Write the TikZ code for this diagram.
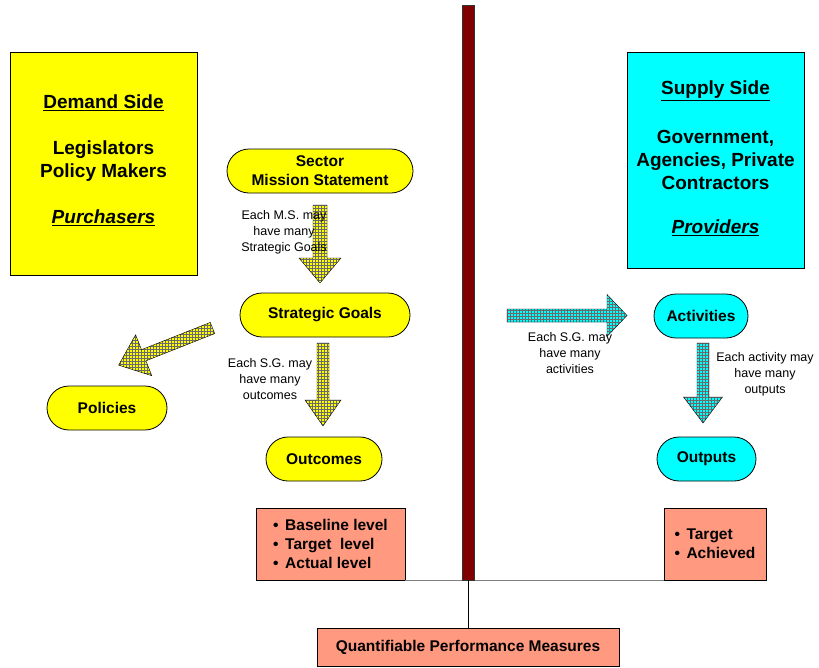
\documentclass[tikz,border=0pt]{standalone}
\usepackage{fontspec}
\setmainfont{Liberation Sans}
\usetikzlibrary{patterns}

\definecolor{salmon}{HTML}{FF9980}
\definecolor{barred}{HTML}{800000}
\definecolor{lemon}{HTML}{FFFF00}
\definecolor{aqua}{HTML}{00FFFF}
\definecolor{hatch}{HTML}{6A6A6A}

\tikzset{
  sidebox/.style={draw, thick, minimum width=#1, inner sep=0pt},
  pill/.style={draw, thick, rounded corners=22pt, minimum height=44, inner sep=0pt,
    align=center, font=\fontsize{15.5}{19}\selectfont\bfseries},
  measbox/.style={draw, thick, fill=salmon, inner sep=0pt,
    font=\fontsize{15.5}{19}\selectfont\bfseries},
  meastext/.style={align=left, inner sep=0pt, font=\fontsize{15.5}{19}\selectfont\bfseries},
  bigtext/.style={align=center, font=\fontsize{19}{23}\selectfont\bfseries},
  note/.style={align=center, font=\fontsize{12.5}{16}\selectfont},
  yarrow/.style={draw=black, preaction={fill=lemon}, pattern=grid, pattern color=hatch},
  carrow/.style={draw=black, preaction={fill=aqua}, pattern=grid, pattern color=hatch},
  pics/barrow/.style n args={5}{code={
    \path[#5] (0,-#2) -- (#1-#4,-#2) -- (#1-#4,-#3) -- (#1,0)
      -- (#1-#4,#3) -- (#1-#4,#2) -- (0,#2) -- cycle;}}
}

\begin{document}
\begin{tikzpicture}[x=1pt, y=-1pt]
  \useasboundingbox (0,0) rectangle (819,667);

  % the two sides
  \node[sidebox=187, minimum height=223, fill=lemon] (demand) at (103.5,163.5) {};
  \node[bigtext] (dtitle) at (103.5,103) {\underline{Demand Side}};
  \node[bigtext] (dwho) at (103.5,161) {Legislators\\Policy Makers};
  \node[bigtext] (dbuy) at (103.5,218) {\underline{\itshape Purchasers}};

  \node[sidebox=177, minimum height=216, fill=aqua] (supply) at (715.5,160) {};
  \node[bigtext] (stitle) at (715.5,91) {\underline{Supply Side}};
  \node[bigtext] (swho) at (715.5,160) {Government,\\Agencies, Private\\Contractors};
  \node[bigtext] (sprov) at (715.5,228) {\underline{\itshape Providers}};

  % measures and the divider
  \node[measbox, minimum width=149, minimum height=72] (lmeas) at (330.5,544) {};
  \node[meastext] (lmeastext) at (lmeas) {\makebox[12pt][l]{\textbullet}Baseline level\\
    \makebox[12pt][l]{\textbullet}Target\ \ level\\\makebox[12pt][l]{\textbullet}Actual level};
  \node[measbox, minimum width=102, minimum height=72] (rmeas) at (715,544) {};
  \node[meastext] (rmeastext) at (rmeas) {\makebox[12pt][l]{\textbullet}Target\\
    \makebox[12pt][l]{\textbullet}Achieved};
  \node[measbox, minimum width=302, minimum height=38] (qpm) at (468,647) {Quantifiable Performance Measures};

  \draw[gray, line width=1.5pt] (lmeas.south east) -- (rmeas.south west);
  \node[draw=black!80, fill=barred, minimum width=12, minimum height=575, inner sep=0pt] (bar) at (468,292.5) {};
  \draw (bar.south) -- (qpm.north);

  % demand side flow
  \node[pill, fill=lemon, minimum width=186] (mission) at (320,171) {Sector\\Mission Statement};
  \node[pill, fill=lemon, minimum width=170] (goals) at (325,315) {Strategic Goals};
  \node[pill, fill=lemon, minimum width=116] (outcomes) at (324,459) {Outcomes};
  \node[pill, fill=lemon, minimum width=120] (policies) at (107,408) {Policies};

  \pic[rotate=-90] at (320,205) {barrow={78}{7}{21}{25}{yarrow}};
  \pic[rotate=-90] at (323,343) {barrow={83}{6}{18}{26}{yarrow}};
  \pic[rotate=201.6] at (212.5,328) {barrow={101}{6}{22}{27}{yarrow}};
  \node[note] (msnote) at (284,232) {Each M.S. may\\have many\\Strategic Goals};
  \node[note] (sgnote) at (270,379) {Each S.G. may\\have many\\outcomes};

  % supply side flow
  \node[pill, fill=aqua, minimum width=94] (activities) at (701,316) {Activities};
  \node[pill, fill=aqua, minimum width=99] (outputs) at (706.5,459) {Outputs};

  \pic at (507,315.5) {barrow={120}{6.5}{21}{20}{carrow}};
  \pic[rotate=-90] at (703,343) {barrow={80}{6}{19.5}{26}{carrow}};
  \node[note] (actnote) at (570,353) {Each S.G. may\\have many\\activities};
  \node[note] (outnote) at (765,374) {Each activity may\\have many\\outputs};
\end{tikzpicture}
\end{document}
